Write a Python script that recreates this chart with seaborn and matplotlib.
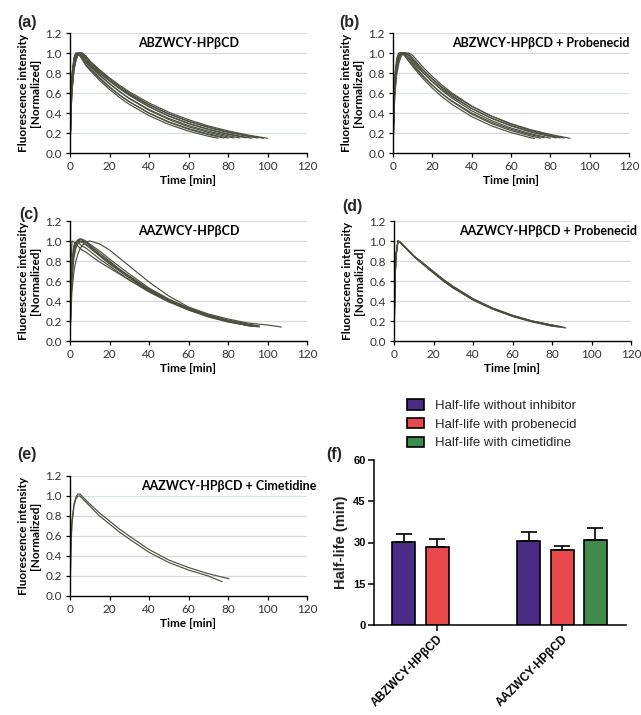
import numpy as np
import pandas as pd
import matplotlib
matplotlib.use("Agg")
import matplotlib.pyplot as plt
import seaborn as sns

sns.set_theme(style="ticks")
plt.rcParams["font.family"] = ["Lato", "DejaVu Sans"]

# ---------------- data ----------------
time_grid = [0, 0.5, 1, 2, 3, 4, 5, 6, 8, 10, 15, 20, 25, 30, 40, 50, 60, 70, 80, 90, 100]

# (a) ABZWCY-HPbCD
a_curves = [
    [0, .55, .78, .95, 1.0, .99, .97, .94, .875, .83, .726, .636, .556, .487, .373, .286, .219, .168],
    [0, .5, .73, .92, .98, 1.0, .99, .97, .902, .857, .754, .663, .583, .513, .397, .307, .238, .184],
    [0, .55, .78, .95, 1.0, .99, .975, .95, .884, .841, .743, .656, .58, .513, .40, .312, .244, .191],
    [0, .45, .68, .88, .96, .99, 1.0, .99, .94, .886, .784, .694, .615, .544, .427, .335, .262, .206, .161],
    [0, .5, .73, .92, .98, 1.0, .99, .97, .912, .871, .776, .691, .616, .548, .435, .346, .274, .218, .173],
    [0, .4, .62, .83, .93, .98, 1.0, 1.0, .97, .913, .815, .727, .649, .58, .462, .368, .293, .234, .186],
    [0, .45, .68, .88, .96, .99, 1.0, .99, .95, .896, .803, .719, .644, .577, .463, .372, .298, .239, .192, .154],
    [0, .4, .62, .83, .93, .98, 1.0, 1.0, .97, .918, .825, .742, .667, .60, .484, .391, .316, .255, .206, .166],
    [0, .5, .73, .92, .98, 1.0, .99, .97, .922, .885, .799, .721, .652, .589, .48, .391, .319, .26, .212, .173],
    [0, .4, .62, .83, .93, .98, 1.0, 1.0, .97, .922, .832, .751, .679, .613, .5, .408, .333, .271, .221, .18],
]
a_end_t = [75, 78, 80, 83, 86, 89, 92, 95, 98, 100]
a_end_v = [0.148, 0.15, 0.149, 0.15, 0.15, 0.152, 0.148, 0.15, 0.147, 0.147]

# (b) ABZWCY-HPbCD + Probenecid
b_curves = [
    [0, .55, .78, .95, 1.0, 1.0, .99, .97, .917, .866, .749, .648, .561, .486, .364, .272, .204, .153],
    [0, .5, .73, .92, .98, 1.0, 1.0, .99, .946, .895, .779, .678, .59, .514, .389, .295, .224, .17],
    [0, .55, .78, .95, 1.0, 1.0, .99, .974, .925, .877, .77, .675, .592, .52, .40, .308, .237, .183],
    [0, .45, .68, .88, .96, .99, 1.0, 1.0, .974, .925, .811, .712, .624, .548, .422, .325, .25, .193],
    [0, .4, .62, .83, .93, .98, 1.0, 1.0, .99, .951, .838, .739, .652, .574, .446, .347, .27, .209, .163],
    [0, .5, .73, .92, .98, 1.0, 1.0, .99, .953, .909, .807, .715, .635, .563, .444, .35, .275, .217, .171],
    [0, .38, .6, .8, .9, .96, .99, 1.0, 1.0, .976, .864, .765, .678, .60, .47, .369, .289, .227, .178],
    [0, .45, .68, .88, .96, .99, 1.0, 1.0, .977, .933, .831, .741, .66, .588, .467, .37, .294, .233, .185],
]
b_end_t = [72, 75, 77, 80, 83, 85, 87, 90]
b_end_v = [0.145, 0.148, 0.152, 0.148, 0.151, 0.151, 0.15, 0.147]

# (c) AAZWCY-HPbCD
c_curves = [
    [0, .75, 1.0, .99, .97, .95, .93, .91, .89, .86, .79, .73, .67, .61, .50, .41, .33, .26, .20, .155],
    [0, .45, .7, .9, .98, 1.01, 1.02, 1.02, 1.0, .96, .88, .80, .72, .65, .52, .41, .32, .25, .20, .16],
    [0, .5, .74, .93, .99, 1.01, 1.0, .99, .96, .93, .85, .77, .70, .63, .50, .40, .32, .25, .20, .16],
    [0, .42, .67, .88, .97, 1.0, 1.02, 1.01, .99, .95, .86, .78, .71, .64, .51, .41, .32, .25, .195, .155],
    [0, .6, .82, .96, .99, .98, .97, .95, .93, .90, .82, .75, .68, .61, .49, .39, .31, .25, .20, .16],
    [0, .4, .62, .83, .93, .97, .99, 1.0, .99, .97, .90, .82, .745, .67, .53, .42, .33, .26, .21, .17],
    [0, .3, .5, .7, .8, .87, .92, .95, .99, 1.0, .97, .91, .83, .75, .59, .45, .34, .27, .22, .18, .16],
    [0, .45, .7, .9, .97, .99, 1.0, .99, .97, .94, .86, .79, .71, .64, .51, .40, .31, .24, .19, .155],
]
c_end_t = [92, 95, 93, 96, 93, 96, 107, 92]
c_end_v = [0.145, 0.145, 0.15, 0.14, 0.15, 0.15, 0.14, 0.15]

# (d) AAZWCY-HPbCD + Probenecid
d_curves = [
    [0, .6, .85, 1.0, .99, .97, .95, .93, .89, .85, .77, .69, .61, .54, .42, .325, .255, .20, .16],
    [0, .6, .86, 1.0, .99, .97, .95, .93, .89, .85, .765, .68, .60, .53, .412, .32, .25, .195, .15],
    [0, .58, .84, 1.0, .99, .97, .95, .93, .89, .85, .775, .695, .615, .545, .423, .33, .258, .20, .16],
    [0, .62, .87, 1.0, .99, .97, .95, .925, .885, .845, .76, .68, .60, .53, .41, .318, .245, .19, .148],
    [0, .6, .85, 1.0, .99, .97, .95, .93, .89, .85, .77, .69, .615, .545, .42, .325, .252, .195, .155],
    [0, .59, .85, 1.0, .99, .97, .95, .93, .89, .85, .77, .685, .605, .535, .415, .322, .25, .198, .157],
]
d_end_t = [86.5, 83, 85, 81, 87, 84]
d_end_v = [0.135, 0.14, 0.14, 0.145, 0.13, 0.14]

# (e) AAZWCY-HPbCD + Cimetidine
e_curves = [
    [0, .55, .75, .92, .99, 1.02, 1.02, 1.0, .96, .92, .83, .75, .67, .60, .465, .36, .285, .223, .175],
    [0, .5, .72, .9, .97, 1.0, 1.0, .98, .94, .90, .80, .72, .64, .57, .437, .335, .26, .20],
]
e_end_t = [80.5, 77]
e_end_v = [0.172, 0.143]

# (f) half-lives
bar_compounds = ["ABZWCY-HPβCD", "ABZWCY-HPβCD", "AAZWCY-HPβCD", "AAZWCY-HPβCD", "AAZWCY-HPβCD"]
bar_conditions = ["Half-life without inhibitor", "Half-life with probenecid",
                  "Half-life without inhibitor", "Half-life with probenecid",
                  "Half-life with cimetidine"]
bar_halflife = [30.3, 28.5, 30.7, 27.2, 30.9]
bar_error = [2.7, 2.7, 3.1, 1.6, 4.4]
compound_order = ["ABZWCY-HPβCD", "AAZWCY-HPβCD"]
condition_order = ["Half-life without inhibitor", "Half-life with probenecid",
                   "Half-life with cimetidine"]
condition_colors = ["#4B2D87", "#E84A4C", "#408A4B"]

# ---------------- figure ----------------
W, H = 641, 715
fig = plt.figure(figsize=(W / 100, H / 100), dpi=100)
fig.patch.set_facecolor("white")


def rect(l, t, r, b):
    return [l / W, 1 - b / H, (r - l) / W, (b - t) / H]


def curves_frame(curves, end_t, end_v):
    rows = []
    for i, (vals, et, ev) in enumerate(zip(curves, end_t, end_v)):
        for t, v in zip(time_grid, vals):
            if t < et:
                rows.append((i, t, v))
        rows.append((i, et, ev))
    return pd.DataFrame(rows, columns=["curve", "t", "v"])


LINE_COLOR = "#4b4f3f"
GRID_GRAY = "#d9d9d9"
GRID_GREEN = "#cfe8d8"


def curve_panel(box, curves, end_t, end_v, title, tx, ha, green_lines):
    ax = fig.add_axes(rect(*box))
    df = curves_frame(curves, end_t, end_v)
    sns.lineplot(data=df, x="t", y="v", units="curve", estimator=None,
                 color=LINE_COLOR, lw=0.85, sort=False, legend=False, ax=ax)
    ax.set_xlim(0, 120)
    ax.set_ylim(0, 1.2)
    yt = [0.0, 0.2, 0.4, 0.6, 0.8, 1.0, 1.2]
    ax.set_yticks(yt)
    ax.set_yticklabels([f"{v:.1f}" for v in yt])
    ax.set_xticks(range(0, 121, 20))
    for y in yt[1:]:
        col = GRID_GREEN if any(abs(y - g) < 1e-6 for g in green_lines) else GRID_GRAY
        ax.axhline(y, color=col, lw=0.9, zorder=0)
    for s in ("top", "right"):
        ax.spines[s].set_visible(False)
    for s in ("left", "bottom"):
        ax.spines[s].set_color("black")
        ax.spines[s].set_linewidth(1.0)
    ax.tick_params(direction="out", length=3, width=0.9, colors="black",
                   labelsize=8.5, labelcolor="#333333", pad=3)
    ax.set_xlabel("Time [min]", fontweight="bold", fontsize=8.5, labelpad=2,
                  color="black")
    ax.set_ylabel("Fluorescence intensity\n[Normalized]", fontweight="bold",
                  fontsize=8.5, labelpad=3, color="black", linespacing=1.15)
    ax.text(tx, 0.915, title, transform=ax.transAxes, ha=ha, va="center",
            fontsize=9, fontweight="bold", color="black")
    ax.set_facecolor("white")
    return ax


curve_panel((70, 33, 307, 153), a_curves, a_end_t, a_end_v,
            "ABZWCY-HPβCD", 0.502, "center", [0.6, 0.2])
curve_panel((393, 33, 629, 153), b_curves, b_end_t, b_end_v,
            "ABZWCY-HPβCD + Probenecid", 1.004, "right", [0.6])
curve_panel((70, 221, 307, 341), c_curves, c_end_t, c_end_v,
            "AAZWCY-HPβCD", 0.502, "center", [])
curve_panel((394, 221, 631, 341), d_curves, d_end_t, d_end_v,
            "AAZWCY-HPβCD + Probenecid", 1.025, "right", [])
curve_panel((70, 476, 307, 596), e_curves, e_end_t, e_end_v,
            "AAZWCY-HPβCD + Cimetidine", 1.038, "right", [1.0])

# ---------------- (f) bars ----------------
axf = fig.add_axes(rect(374, 460, 626, 625))
bars = pd.DataFrame({"compound": bar_compounds, "condition": bar_conditions,
                     "halflife": bar_halflife, "err": bar_error})
sns.barplot(data=bars, x="compound", y="halflife", hue="condition",
            order=compound_order, hue_order=condition_order,
            palette=condition_colors, saturation=1, width=0.8, gap=0.31,
            edgecolor="black", linewidth=1.2, errorbar=None, ax=axf)
for cont, cond in zip(axf.containers, condition_order):
    for patch in cont:
        h = patch.get_height()
        if not np.isfinite(h) or h == 0:
            continue
        xc = patch.get_x() + patch.get_width() / 2
        ci = int(round(xc))
        sel = bars[(bars.compound == compound_order[ci]) & (bars.condition == cond)]
        if len(sel):
            axf.errorbar([xc], [h], yerr=[[0], [sel.err.iloc[0]]], fmt="none",
                         ecolor="black", elinewidth=1.2, capsize=5.5,
                         capthick=1.2, zorder=3)
handles, labels = axf.get_legend_handles_labels()
if axf.get_legend() is not None:
    axf.get_legend().remove()
axf.set_xlim(-0.504, 1.512)
axf.set_ylim(0, 60)
axf.set_yticks([0, 15, 30, 45, 60])
for s in ("top", "right"):
    axf.spines[s].set_visible(False)
for s in ("left", "bottom"):
    axf.spines[s].set_color("black")
    axf.spines[s].set_linewidth(1.1)
axf.tick_params(direction="out", length=4, width=1.1, colors="black", pad=2)
axf.set_xlabel("")
axf.set_ylabel("Half-life (min)", fontsize=10.5, fontweight="bold",
               family=["Liberation Sans", "DejaVu Sans"], labelpad=4)
for lab in axf.get_yticklabels():
    lab.set_fontsize(8)
    lab.set_fontweight("bold")
    lab.set_family(["Liberation Sans", "DejaVu Sans"])
axf.set_xticks([0, 1])
axf.set_xticklabels(compound_order, rotation=45, ha="right", va="top",
                    rotation_mode="anchor", fontsize=8.5, fontweight="bold",
                    family=["Liberation Sans", "DejaVu Sans"])

fig.legend(handles, labels, loc="upper left",
           bbox_to_anchor=(407 / W, 1 - 399 / H), frameon=False,
           prop={"family": ["Liberation Sans", "DejaVu Sans"], "size": 9.5},
           handlelength=1.3, handleheight=0.85, handletextpad=0.8,
           labelspacing=0.45, borderpad=0, borderaxespad=0)

# ---------------- panel letters ----------------
letters = ["(a)", "(b)", "(c)", "(d)", "(e)", "(f)"]
letter_x = [27, 349, 29, 352, 27, 334]
letter_y = [22, 22, 215, 207, 454, 455]
for s, x, y in zip(letters, letter_x, letter_y):
    fig.text(x / W, 1 - y / H, s, ha="center", va="center", fontsize=11.5,
             fontweight="bold", family=["Liberation Sans", "DejaVu Sans"])

fig.savefig("out.png", dpi=100, facecolor="white")
